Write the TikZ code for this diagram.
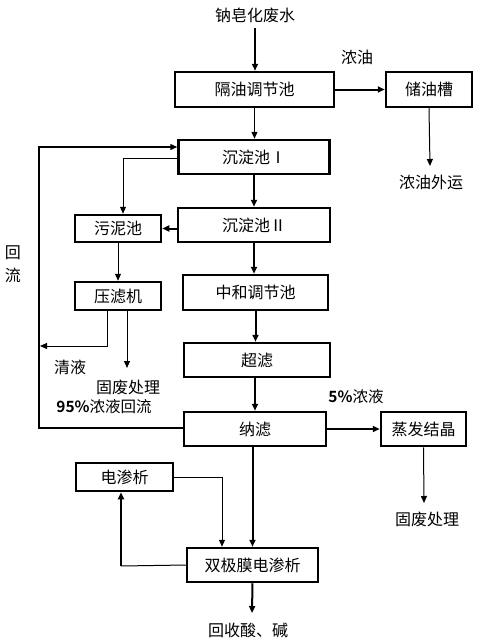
\documentclass[tikz,border=0pt]{standalone}
\usepackage{fontspec}
\setmainfont{Noto Sans CJK SC}[BoldFont={Noto Sans CJK SC Bold}]
\usetikzlibrary{arrows.meta,calc}
\begin{document}
\begin{tikzpicture}[x=1pt,y=-1pt,
  box/.style={draw, line width=2.5pt, rectangle, inner sep=0pt, font=\fontsize{16}{18}\selectfont},
  lbl/.style={inner sep=0pt, font=\fontsize{16}{18}\selectfont},
  blbl/.style={inner sep=0pt, font=\fontsize{15.5}{17}\selectfont},
  thinarr/.style={line width=1pt, -{Triangle[length=7pt,width=6pt]}},
  thickarr/.style={line width=2pt, -{Triangle[length=7pt,width=6pt]}}]
\useasboundingbox[fill=white] (0,0) rectangle (480,640);
% boxes
\node[box, minimum width=159, minimum height=35] (geyou) at (254.5,89.5) {隔油调节池};
\node[box, minimum width=86, minimum height=35] (chuyou) at (429,89.5) {储油槽};
\node[box, minimum width=151, minimum height=34] (cd1) at (254,157) {沉淀池Ⅰ};
\node[box, minimum width=152, minimum height=34] (cd2) at (254,225) {沉淀池Ⅱ};
\node[box, minimum width=86, minimum height=27] (wuni) at (118,228.5) {污泥池};
\node[box, minimum width=86, minimum height=28] (yalv) at (118,296) {压滤机};
\node[box, minimum width=145, minimum height=35] (zhonghe) at (255.5,292.5) {中和调节池};
\node[box, minimum width=146, minimum height=34] (chaolv) at (257,360) {超滤};
\node[box, minimum width=142, minimum height=34] (nalv) at (255,429) {纳滤};
\node[box, minimum width=85, minimum height=34] (zhengfa) at (423.5,429) {蒸发结晶};
\node[box, minimum width=97, minimum height=28] (dsx) at (124.5,477) {电渗析};
\node[box, minimum width=131, minimum height=34] (sjm) at (252.5,565) {双极膜电渗析};
% labels
\node[lbl] (src) at (255,15) {钠皂化废水};
\node[lbl] (nongyou) at (357,57) {浓油};
\node[lbl] (nyws) at (431,182) {浓油外运};
\node[lbl] (hui) at (13,253) {回};
\node[lbl] (liu) at (13,275) {流};
\node[lbl] (qingye) at (70,367) {清液};
\node[lbl] (gf1) at (128,387) {固废处理};
\node[blbl] (ret95) at (104,407) {\textbf{95\%}浓液回流};
\node[blbl] (c5) at (356,397) {\textbf{5\%}浓液};
\node[lbl] (gf2) at (427,519) {固废处理};
\node[lbl] (hs) at (248,630) {回收酸、碱};
% coordinates
\coordinate (srcTop) at (255,28);
\coordinate (nyEnd) at (430,166);
\coordinate (b1) at (123,158);
\coordinate (lp1) at (39,428);
\coordinate (lp2) at (39,147);
\coordinate (qy1) at (107,346);
\coordinate (qyEnd) at (40,346);
\coordinate (gfEnd) at (127,368);
\coordinate (gf2End) at (424,503);
\coordinate (ds1) at (222,477);
\coordinate (ds2) at (121,566);
\coordinate (hsEnd) at (252,613);
% connectors
\draw[thickarr, line width=1.5pt] (srcTop) -- (geyou.north -| srcTop);
\draw[thickarr] (geyou.east) -- (chuyou.west);
\draw[thinarr] (chuyou.south) -- (nyEnd);
\draw[thinarr] (geyou.south) -- (geyou.south |- cd1.north);
\draw[thickarr] (cd1.south) -- (cd2.north);
\draw[thinarr] (cd1.west |- b1) -- (b1) -- (b1 |- wuni.north);
\draw[thinarr, line width=1.3pt] (nalv.west |- lp1) -- (lp1) -- (lp2) -- (cd1.west |- lp2);
\draw[thickarr] (cd2.west |- wuni.east) -- (wuni.east);
\draw[thickarr] (cd2.south) -- (cd2.south |- zhonghe.north);
\draw[thinarr] (wuni.south) -- (yalv.north);
\draw[thinarr] (yalv.south -| qy1) -- (qy1) -- (qyEnd);
\draw[thinarr] (yalv.south -| gfEnd) -- (gfEnd);
\draw[thickarr] (zhonghe.south) -- (zhonghe.south |- chaolv.north);
\draw[thickarr] (nalv.north |- chaolv.south) -- (nalv.north);
\draw[thickarr] (nalv.east) -- (zhengfa.west);
\draw[thinarr] (zhengfa.south) -- (gf2End);
\draw[thickarr] (sjm.north |- nalv.south) -- (sjm.north);
\draw[thinarr] (dsx.east) -- (ds1) -- (ds1 |- sjm.north);
\draw[line width=1pt] (sjm.west) -- (ds2);
\draw[thickarr] (ds2) -- (ds2 |- dsx.south);
\draw[thickarr] (sjm.south) -- (hsEnd);
\end{tikzpicture}
\end{document}
